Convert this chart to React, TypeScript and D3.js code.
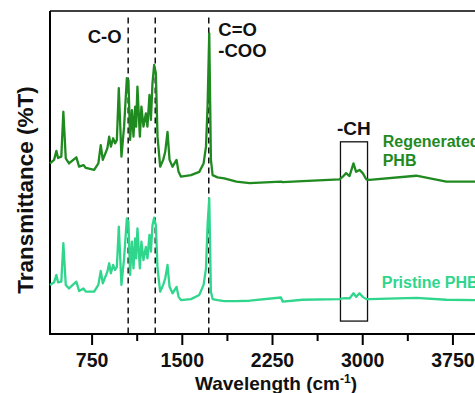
import React from 'react';
import * as d3 from 'd3';

// Wavenumbers (cm-1) sampled for both spectra
const wavenumbers = [
  400, 434, 453, 467, 494, 511, 531, 558, 619, 642, 678, 698, 767, 802, 822, 839, 877, 892, 906, 925,
  941, 956, 972, 994, 1016, 1039, 1052, 1066, 1081, 1094, 1108, 1116, 1127, 1147, 1160, 1177, 1197, 1210,
  1227, 1239, 1252, 1266, 1280, 1294, 1316, 1341, 1358, 1377, 1394, 1419, 1452, 1469, 1489, 1572, 1641,
  1677, 1697, 1710, 1724, 1738, 1752, 1793, 1849, 1950, 2060, 2320, 2335, 2500, 2807, 2834, 2862, 2890,
  2923, 2945, 2973, 3000, 3029, 3056, 3445, 3695, 3930, 4000,
];

// Regenerated PHB (offset upwards)
const regenerated = [
  52.8, 53.9, 56.7, 54.5, 54.9, 68.8, 54.4, 52.8, 54.7, 51.8, 52.3, 51.4, 50.8, 52.8, 58.5, 53.9, 57.5, 61.1, 58.0, 60.6,
  59.0, 60.1, 76.1, 54.9, 64.2, 79.2, 78.6, 60.1, 69.3, 61.1, 70.4, 64.2, 76.6, 61.1, 70.4, 64.2, 68.3, 64.2,
  74.0, 66.3, 77.6, 83.3, 80.7, 61.1, 51.8, 53.9, 56.4, 62.6, 53.9, 51.8, 53.9, 50.2, 48.7, 49.2, 50.2,
  52.8, 58.0, 70.4, 93.1, 53.9, 49.2, 48.5, 48.2, 47.2, 46.7, 47.2, 47.0, 47.3, 47.9, 48.7, 49.8, 48.9,
  52.8, 50.2, 50.8, 49.8, 47.9, 47.7, 49.0, 47.2, 47.2, 47.2,
];

// Pristine PHB
const pristine = [
  15.2, 16.0, 18.3, 16.0, 16.2, 28.1, 15.2, 14.1, 16.2, 13.3, 14.1, 13.1, 13.1, 15.2, 19.5, 15.7, 19.3, 21.9, 18.8, 21.4,
  19.8, 20.8, 33.2, 15.2, 23.4, 35.8, 34.8, 18.3, 28.6, 20.3, 29.6, 23.4, 32.7, 20.3, 28.6, 22.9, 27.0, 23.4,
  30.7, 25.5, 33.7, 36.0, 33.7, 20.3, 13.1, 15.2, 17.2, 21.4, 14.6, 12.6, 14.6, 11.5, 10.5, 10.8, 12.1,
  15.2, 20.3, 33.7, 42.0, 13.1, 10.8, 10.5, 10.2, 10.2, 10.3, 11.3, 10.0, 10.6, 10.8, 11.0, 11.1, 11.0,
  12.6, 11.5, 12.6, 11.5, 10.8, 10.8, 11.2, 10.6, 10.5, 10.5,
];

const majorTicks = [750, 1500, 2250, 3000, 3750];
const minorTicks = [1125, 1875, 2625, 3375];
const bandLines = [1050, 1275, 1720];
const chBand = [2815, 3040];

const FONT = '"Liberation Sans", Arial, Helvetica, sans-serif';
const DARK_GREEN = '#1f8a1f';
const MINT = '#2fd68c';

const App: React.FC = () => {
  const width = 475;
  const height = 393;
  const plotTop = 11;
  const plotBottom = 334;

  const x = d3.scaleLinear().domain([400, 4000]).range([50, 483]);
  const y = d3.scaleLinear().domain([0, 100]).range([plotBottom, plotTop]);

  const line = d3
    .line<number>()
    .x((_, i) => x(wavenumbers[i]))
    .y((d) => y(d));

  return (
    <svg
      width={width}
      height={height}
      style={{ position: 'absolute', left: 0, top: 0, background: '#fff' }}
      fontFamily={FONT}
      fontWeight="bold"
    >
      {/* frame */}
      <line x1={x(400)} x2={width} y1={plotTop} y2={plotTop} stroke="#000" strokeWidth={1.5} />
      <line x1={x(400)} x2={x(400)} y1={plotTop} y2={plotBottom + 1} stroke="#000" strokeWidth={2} />
      <line x1={x(400) - 1} x2={width} y1={plotBottom} y2={plotBottom} stroke="#000" strokeWidth={2} />

      {/* ticks */}
      {majorTicks.map((t) => (
        <g key={t}>
          <line x1={x(t)} x2={x(t)} y1={plotBottom} y2={plotBottom + 11} stroke="#000" strokeWidth={2} />
          <text x={x(t)} y={367} textAnchor="middle" fontSize={19.5} fill="#111">
            {t}
          </text>
        </g>
      ))}
      {minorTicks.map((t) => (
        <line key={t} x1={x(t)} x2={x(t)} y1={plotBottom} y2={plotBottom + 7} stroke="#000" strokeWidth={2} />
      ))}

      {/* band markers */}
      {bandLines.map((b) => (
        <line
          key={b}
          x1={x(b)}
          x2={x(b)}
          y1={y(98)}
          y2={plotBottom}
          stroke="#111"
          strokeWidth={1.5}
          strokeDasharray="6,4"
        />
      ))}
      <rect
        x={x(chBand[0])}
        y={y(59.5)}
        width={x(chBand[1]) - x(chBand[0])}
        height={y(4) - y(59.5)}
        fill="none"
        stroke="#111"
        strokeWidth={1.3}
      />

      {/* spectra */}
      <path d={line(regenerated) ?? ''} fill="none" stroke={DARK_GREEN} strokeWidth={2.3} strokeLinejoin="round" />
      <path d={line(pristine) ?? ''} fill="none" stroke={MINT} strokeWidth={2.3} strokeLinejoin="round" />

      {/* annotations */}
      <text x={x(996)} y={y(90.1)} textAnchor="end" fontSize={18.5} fill="#111">C-O</text>
      <text x={x(1799)} y={y(92.3)} fontSize={18.5} fill="#111">C=O</text>
      <text x={x(1799)} y={y(85.9)} fontSize={18.5} fill="#111">-COO</text>
      <text x={x(2927)} y={y(61.6)} textAnchor="middle" fontSize={19} fill="#111">-CH</text>
      <text x={x(3166)} y={y(58)} fontSize={16} fill={DARK_GREEN}>Regenerated</text>
      <text x={x(3166)} y={y(52.1)} fontSize={16} fill={DARK_GREEN}>PHB</text>
      <text x={x(3158)} y={y(14.1)} fontSize={16} fill={MINT}>Pristine PHB</text>

      {/* axis titles */}
      <text x={276} y={390} textAnchor="middle" fontSize={19} fill="#111">
        Wavelength (cm<tspan dy={-7} fontSize={12}>-1</tspan>
        <tspan dy={7}>)</tspan>
      </text>
      <text transform="translate(33,190) rotate(-90)" textAnchor="middle" fontSize={22.5} fill="#111">
        Transmittance (%T)
      </text>
    </svg>
  );
};

export default App;
